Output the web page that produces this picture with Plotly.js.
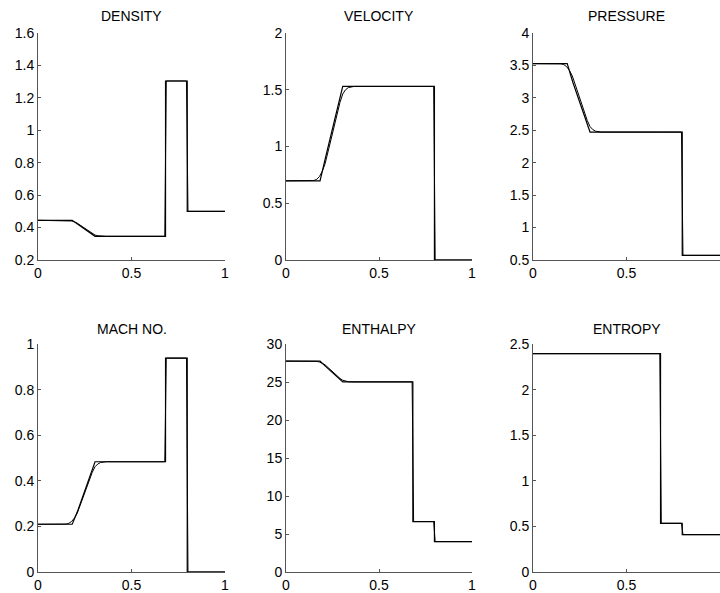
<!DOCTYPE html>
<html>
<head>
<meta charset="utf-8">
<script src="https://cdn.plot.ly/plotly-3.0.1.min.js"></script>
<style>html,body{margin:0;padding:0;background:#fff;}#chart{width:720px;height:593px;}</style>
</head>
<body>
<div id="chart"></div>
<script>
// Exact solution (sharp corners)
const xExact = [0, 0.183, 0.213, 0.244, 0.274, 0.305, 0.682, 0.682, 0.798, 0.798, 1];
const densityExact  = [0.445, 0.445, 0.420, 0.395, 0.370, 0.346, 0.346, 1.304, 1.304, 0.500, 0.500];
const velocityExact = [0.698, 0.698, 0.906, 1.114, 1.321, 1.529, 1.529, 1.529, 1.529, 0.000, 0.000];
const pressureExact = [3.528, 3.528, 3.240, 2.970, 2.720, 2.473, 2.473, 2.473, 2.473, 0.571, 0.571];
const machExact     = [0.2095, 0.2095, 0.270, 0.340, 0.410, 0.4835, 0.4835, 0.938, 0.938, 0.000, 0.000];
const enthalpyExact = [27.75, 27.75, 27.05, 26.35, 25.68, 25.01, 25.01, 6.64, 6.64, 4.00, 4.00];
const entropyExact  = [2.394, 2.394, 2.394, 2.394, 2.394, 2.394, 2.394, 0.534, 0.534, 0.410, 0.410];

// Numerical solution (smeared)
const xNum = [0, 0.13, 0.15, 0.165, 0.18, 0.195, 0.21, 0.23, 0.25, 0.27, 0.29, 0.305, 0.32, 0.335, 0.35, 0.365, 0.678, 0.686, 0.794, 0.802, 1];
const densityNum  = [0.445, 0.445, 0.4447, 0.4435, 0.4405, 0.4351, 0.4272, 0.4113, 0.3945, 0.3777, 0.3628, 0.3539, 0.3495, 0.3472, 0.3462, 0.346, 0.346, 1.304, 1.304, 0.500, 0.500];
const velocityNum = [0.698, 0.698, 0.7005, 0.7105, 0.7354, 0.781, 0.8476, 0.9805, 1.1218, 1.2631, 1.3877, 1.4625, 1.500, 1.519, 1.5273, 1.529, 1.529, 1.529, 1.529, 0.000, 0.000];
const pressureNum = [3.528, 3.528, 3.5248, 3.5122, 3.4805, 3.4225, 3.3381, 3.1693, 2.990, 2.8106, 2.6524, 2.5574, 2.5099, 2.4856, 2.4759, 2.473, 2.473, 2.473, 2.473, 0.571, 0.571];
const machNum     = [0.2095, 0.2095, 0.2103, 0.2136, 0.2218, 0.2369, 0.2588, 0.3027, 0.3492, 0.3958, 0.4369, 0.4616, 0.4739, 0.4802, 0.483, 0.4835, 0.4835, 0.938, 0.938, 0.000, 0.000];
const enthalpyNum = [27.75, 27.75, 27.74, 27.71, 27.63, 27.48, 27.26, 26.82, 26.35, 25.89, 25.48, 25.23, 25.11, 25.04, 25.02, 25.01, 25.01, 6.64, 6.64, 4.00, 4.00];
const entropyNum  = [2.394, 2.394, 2.394, 2.394, 2.394, 2.394, 2.394, 2.394, 2.394, 2.394, 2.394, 2.394, 2.394, 2.394, 2.394, 2.394, 2.394, 0.534, 0.534, 0.410, 0.410];

const panelTitles = ["DENSITY", "VELOCITY", "PRESSURE", "MACH NO.", "ENTHALPY", "ENTROPY"];
const yRanges = [[0.2, 1.6], [0, 2], [0.5, 4], [0, 1], [0, 30], [0, 2.5]];
const yDticks = [0.2, 0.5, 0.5, 0.2, 5, 0.5];

const exactSeries = [densityExact, velocityExact, pressureExact, machExact, enthalpyExact, entropyExact];
const numSeries = [densityNum, velocityNum, pressureNum, machNum, enthalpyNum, entropyNum];

const W = 720, H = 593;
const colPx = [[38, 225], [286, 472], [533, 720]];
const rowPx = [[33, 260], [344, 572]];
const titleY = [16, 329];

const traces = [];
const layout = {
  width: W, height: H,
  margin: {l: 0, r: 0, t: 0, b: 0},
  paper_bgcolor: '#fff', plot_bgcolor: '#fff',
  showlegend: false,
  font: {family: 'Liberation Sans, Arial, sans-serif', size: 14, color: '#000'},
  annotations: []
};

for (let i = 0; i < 6; i++) {
  const r = Math.floor(i / 3), c = i % 3;
  const n = i + 1;
  const xa = n === 1 ? 'x' : 'x' + n;
  const ya = n === 1 ? 'y' : 'y' + n;
  traces.push({x: xExact, y: exactSeries[i], xaxis: xa, yaxis: ya, mode: 'lines',
    line: {color: '#000', width: 1.2}, hoverinfo: 'skip'});
  traces.push({x: xNum, y: numSeries[i], xaxis: xa, yaxis: ya, mode: 'lines',
    line: {color: '#000', width: 1}, hoverinfo: 'skip'});
  const axCommon = {showgrid: false, zeroline: false, showline: true, linecolor: '#555', linewidth: 1,
    ticks: 'inside', ticklen: 3, tickcolor: '#555', tickfont: {size: 14, color: '#000'}, fixedrange: true};
  layout['xaxis' + (n === 1 ? '' : n)] = Object.assign({}, axCommon, {
    domain: [colPx[c][0] / W, colPx[c][1] / W], range: [0, 1], tickmode: 'linear', tick0: 0, dtick: 0.5,
    anchor: ya});
  layout['yaxis' + (n === 1 ? '' : n)] = Object.assign({}, axCommon, {
    domain: [1 - rowPx[r][1] / H, 1 - rowPx[r][0] / H], range: yRanges[i], tickmode: 'linear',
    tick0: yRanges[i][0], dtick: yDticks[i], anchor: xa});
  layout.annotations.push({text: panelTitles[i], xref: 'paper', yref: 'paper',
    x: (colPx[c][0] + colPx[c][1]) / 2 / W, y: 1 - titleY[r] / H, xanchor: 'center', yanchor: 'middle',
    showarrow: false, font: {size: 14, color: '#000'}});
}

Plotly.newPlot('chart', traces, layout, {staticPlot: true, displayModeBar: false});
</script>
</body>
</html>
